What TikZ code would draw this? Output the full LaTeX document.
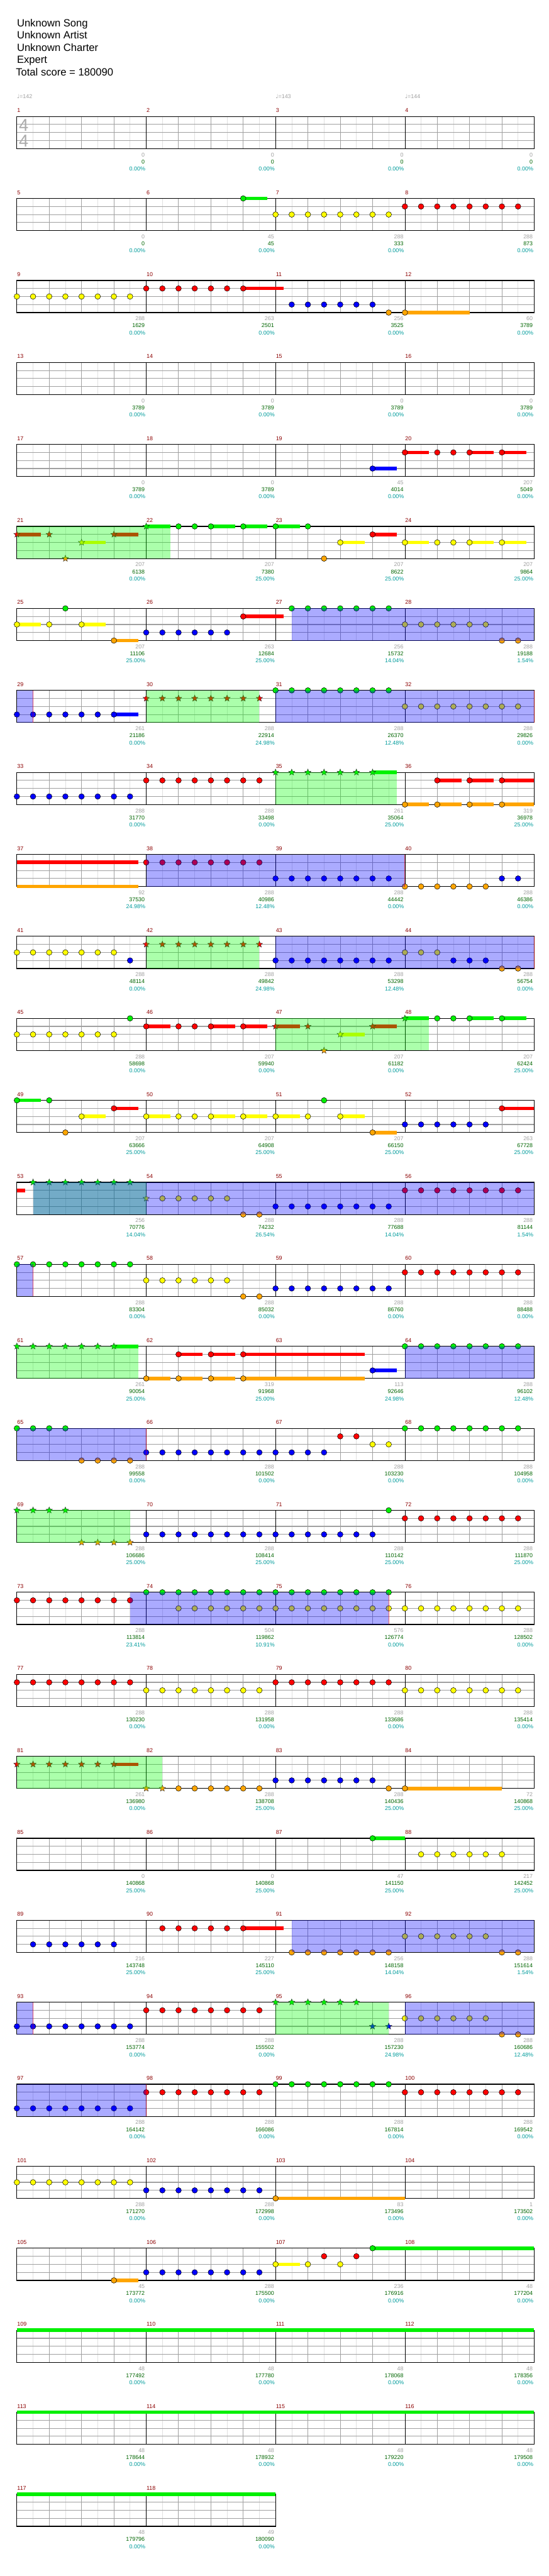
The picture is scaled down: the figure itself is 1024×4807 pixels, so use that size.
\documentclass[tikz,border=0pt]{standalone}
\usepackage{fontspec}
\setmainfont{Liberation Sans}
\newfontfamily\symfont{DejaVu Sans}
\usetikzlibrary{shapes.geometric}

\definecolor{gfret}{HTML}{00F000}
\definecolor{rfret}{HTML}{FF0000}
\definecolor{yfret}{HTML}{FFFF00}
\definecolor{bfret}{HTML}{0000FF}
\definecolor{ofret}{HTML}{FFA500}
\definecolor{gridlight}{HTML}{E0E0E0}
\definecolor{gridbeat}{HTML}{A0A0A0}
\definecolor{barred}{HTML}{8B0000}
\definecolor{cntgrey}{HTML}{A0A0A0}
\definecolor{totgreen}{HTML}{006400}
\definecolor{pctteal}{HTML}{009B9B}
\definecolor{spgreen}{HTML}{00FF00}
\definecolor{odblue}{HTML}{0000FF}

\tikzset{
  notehead/.style={draw=black, line width=0.6pt},
  spstar/.style={star, star points=5, star point ratio=2.3, minimum size=12.5pt, inner sep=0pt, draw=black!85, line width=0.5pt},
  lightline/.style={gridlight, line width=0.8pt},
  beatline/.style={gridbeat, line width=1pt},
  laneline/.style={gridbeat, line width=1.3pt},
  barline/.style={black, line width=0.7pt},
  staffframe/.style={black, line width=1.4pt},
  spfill/.style={fill=spgreen, fill opacity=0.33},
  odfill/.style={fill=odblue, fill opacity=0.33},
  odedge/.style={red, line width=0.8pt, opacity=0.55},
  titletext/.style={anchor=base west, inner sep=0pt, font=\fontsize{19.5}{22}\selectfont},
  barno/.style={text=barred, anchor=base west, inner sep=0pt, font=\fontsize{10.5}{12}\selectfont},
  cntstyle/.style={text=cntgrey, anchor=east, inner sep=0pt, font=\fontsize{10.5}{12}\selectfont},
  totstyle/.style={text=totgreen, anchor=east, inner sep=0pt, font=\fontsize{10.5}{12}\selectfont},
  pctstyle/.style={text=pctteal, anchor=east, inner sep=0pt, font=\fontsize{10.5}{12}\selectfont},
  tempo/.style={text=cntgrey, anchor=base west, inner sep=0pt, font=\fontsize{10.5}{12}\selectfont},
  timesig/.style={text=black!33, inner sep=0pt, font=\fontsize{32}{32}\selectfont}
}

\newcommand\xat[1]{31.5+30.17*(#1)}
\newcommand\setrow[1]{\def\rownum{#1}\pgfmathsetmacro\rowy{-217.3-153*(#1)}}
\newcommand\staff[1]{%
  \pgfmathtruncatemacro\lastbar{#1-1}
  \foreach \mm in {1,...,#1}{
    \foreach \ee in {1,3,5,7} \draw[lightline] ({\xat{8*(\mm-1)+\ee}},\rowy) -- ++(0,-60);
  }
  \foreach \lx in {1,2,3} \draw[laneline] ({\xat{0}},{\rowy-15*\lx}) -- ({\xat{8*#1}},{\rowy-15*\lx});
  \foreach \mm in {1,...,#1}{
    \foreach \ee in {2,4,6} \draw[beatline] ({\xat{8*(\mm-1)+\ee}},\rowy) -- ++(0,-60);
  }
  \foreach \mm in {1,...,\lastbar} \draw[barline] ({\xat{8*\mm}},\rowy) -- ++(0,-60);
  \draw[staffframe] ({\xat{0}},\rowy) rectangle ({\xat{8*#1}},{\rowy-60});
}
\newcommand\measure[5]{%
  \node[barno] (m#2) at ({\xat{8*(#1)}+0.5},{\rowy+7.5}) {#2};
  \node[cntstyle] (c#2) at ({\xat{8*(#1)+8}-2.5},{\rowy-71.4}) {#3};
  \node[totstyle] (t#2) at ({\xat{8*(#1)+8}-2.5},{\rowy-84.4}) {#4};
  \node[pctstyle] (p#2) at ({\xat{8*(#1)+8}-1.5},{\rowy-97.7}) {#5\%};
}
\newcommand\note[3]{\filldraw[notehead, fill=#3] ({\xat{#2}},{\rowy-15*(#1)}) circle (5.2pt);}
\newcommand\tail[4]{\fill[#4] ({\xat{#2}},{\rowy-15*(#1)-3.3}) rectangle ({\xat{#3}},{\rowy-15*(#1)+3.3});}
\newcommand\hold[4]{\tail{#1}{#2}{#3}{#4}\note{#1}{#2}{#4}}
\newcommand\run[4]{\foreach \nn in {#2,...,#3}{\note{#1}{\nn}{#4}}}
\newcommand\spnote[3]{\node[spstar, fill=#3] (st-\rownum-#2) at ({\xat{#2}},{\rowy-15*(#1)}) {};}
\newcommand\sphold[4]{\tail{#1}{#2}{#3}{#4}\spnote{#1}{#2}{#4}}
\newcommand\sprun[4]{\foreach \nn in {#2,...,#3}{\spnote{#1}{\nn}{#4}}}
\newcommand\spzone[2]{\fill[spfill] ({\xat{#1}},\rowy) rectangle ({\xat{#2}},{\rowy-60});}
\newcommand\odzone[2]{\fill[odfill] ({\xat{#1}},\rowy) rectangle ({\xat{#2}},{\rowy-60});}
\newcommand\odend[1]{\draw[odedge] ({\xat{#1}},\rowy) -- ++(0,-60);}

\begin{document}
\begin{tikzpicture}[x=1pt, y=1pt]
   \useasboundingbox (0,0) rectangle (1024,-4807);

   %header
   \node[titletext] (song) at (31.5,-49.3) {Unknown Song};
   \node[titletext] (artist) at (31.5,-72.3) {Unknown Artist};
   \node[titletext] (charter) at (31.5,-95.3) {Unknown Charter};
   \node[titletext] (level) at (31.5,-118.3) {Expert};
   \node[titletext] (score) at (29.5,-141.7) {Total score = 180090};

   %row 1
   \setrow{0} \staff{4}
   \node[timesig] (ts1) at (44.3,-233.3) {4};
   \node[timesig] (ts2) at (44.3,-262.5) {4};
   \node[tempo] (bpm1) at ({\xat{0}},-184) {{\symfont ♩}=142};
   \node[tempo] (bpm2) at ({\xat{16}},-184) {{\symfont ♩}=143};
   \node[tempo] (bpm3) at ({\xat{24}},-184) {{\symfont ♩}=144};
   \measure{0}{1}{0}{0}{0.00} \measure{1}{2}{0}{0}{0.00}
   \measure{2}{3}{0}{0}{0.00} \measure{3}{4}{0}{0}{0.00}

   %row 2
   \setrow{1} \staff{4}
   \hold{0}{14}{15.5}{gfret}
   \run{2}{16}{23}{yfret} \run{1}{24}{31}{rfret}
   \measure{0}{5}{0}{0}{0.00} \measure{1}{6}{45}{45}{0.00}
   \measure{2}{7}{288}{333}{0.00} \measure{3}{8}{288}{873}{0.00}

   %row 3
   \setrow{2} \staff{4}
   \run{2}{0}{7}{yfret} \run{1}{8}{13}{rfret} \hold{1}{14}{16.5}{rfret}
   \run{3}{17}{22}{bfret} \note{4}{23}{ofret} \hold{4}{24}{28}{ofret}
   \measure{0}{9}{288}{1629}{0.00} \measure{1}{10}{263}{2501}{0.00}
   \measure{2}{11}{256}{3525}{0.00} \measure{3}{12}{60}{3789}{0.00}

   %row 4
   \setrow{3} \staff{4}
   \measure{0}{13}{0}{3789}{0.00} \measure{1}{14}{0}{3789}{0.00}
   \measure{2}{15}{0}{3789}{0.00} \measure{3}{16}{0}{3789}{0.00}

   %row 5
   \setrow{4} \staff{4}
   \hold{3}{22}{23.5}{bfret}
   \hold{1}{24}{25.5}{rfret} \note{1}{26}{rfret} \note{1}{27}{rfret}
   \hold{1}{28}{29.5}{rfret} \hold{1}{30}{31.5}{rfret}
   \measure{0}{17}{0}{3789}{0.00} \measure{1}{18}{0}{3789}{0.00}
   \measure{2}{19}{45}{4014}{0.00} \measure{3}{20}{207}{5049}{0.00}

   %row 6
   \setrow{5} \staff{4}
   \sphold{1}{0}{1.5}{rfret} \spnote{1}{2}{rfret} \spnote{4}{3}{ofret}
   \sphold{2}{4}{5.5}{yfret} \sphold{1}{6}{7.5}{rfret} \sphold{0}{8}{9.5}{gfret}
   \note{0}{10}{gfret} \note{0}{11}{gfret} \hold{0}{12}{13.5}{gfret}
   \hold{0}{14}{15.5}{gfret} \hold{0}{16}{17.5}{gfret} \note{0}{18}{gfret}
   \note{4}{19}{ofret} \hold{2}{20}{21.5}{yfret} \hold{1}{22}{23.5}{rfret}
   \hold{2}{24}{25.5}{yfret} \note{2}{26}{yfret} \note{2}{27}{yfret}
   \hold{2}{28}{29.5}{yfret} \hold{2}{30}{31.5}{yfret}
   \spzone{0}{9.5}
   \measure{0}{21}{207}{6138}{0.00} \measure{1}{22}{207}{7380}{25.00}
   \measure{2}{23}{207}{8622}{25.00} \measure{3}{24}{207}{9864}{25.00}

   %row 7
   \setrow{6} \staff{4}
   \hold{2}{0}{1.5}{yfret} \note{2}{2}{yfret} \note{0}{3}{gfret}
   \hold{2}{4}{5.5}{yfret} \hold{4}{6}{7.5}{ofret}
   \run{3}{8}{13}{bfret} \hold{1}{14}{16.5}{rfret}
   \run{0}{17}{23}{gfret} \run{2}{24}{29}{yfret} \run{4}{30}{31}{ofret}
   \odzone{17}{32}
   \measure{0}{25}{207}{11106}{25.00} \measure{1}{26}{263}{12684}{25.00}
   \measure{2}{27}{256}{15732}{14.04} \measure{3}{28}{288}{19188}{1.54}

   %row 8
   \setrow{7} \staff{4}
   \run{3}{0}{5}{bfret} \hold{3}{6}{7.5}{bfret}
   \sprun{1}{8}{15}{rfret}
   \run{0}{16}{23}{gfret} \run{2}{24}{31}{yfret}
   \odzone{0}{1} \odend{1} \spzone{8}{15} \odzone{16}{32} \odend{32}
   \measure{0}{29}{261}{21186}{0.00} \measure{1}{30}{288}{22914}{24.98}
   \measure{2}{31}{288}{26370}{12.48} \measure{3}{32}{288}{29826}{0.00}

   %row 9
   \setrow{8} \staff{4}
   \run{3}{0}{7}{bfret} \run{1}{8}{15}{rfret}
   \sprun{0}{16}{21}{gfret} \sphold{0}{22}{23.5}{gfret}
   \hold{4}{24}{25.5}{ofret}
   \hold{1}{26}{27.5}{rfret} \hold{4}{26}{27.5}{ofret}
   \hold{1}{28}{29.5}{rfret} \hold{4}{28}{29.5}{ofret}
   \hold{1}{30}{32}{rfret} \hold{4}{30}{32}{ofret}
   \spzone{16}{23.5}
   \measure{0}{33}{288}{31770}{0.00} \measure{1}{34}{288}{33498}{0.00}
   \measure{2}{35}{261}{35064}{25.00} \measure{3}{36}{319}{36978}{25.00}

   %row 10
   \setrow{9} \staff{4}
   \tail{1}{0}{7.5}{rfret} \tail{4}{0}{7.5}{ofret}
   \run{1}{8}{15}{rfret} \run{3}{16}{23}{bfret}
   \run{4}{24}{29}{ofret} \run{3}{30}{31}{bfret}
   \odzone{8}{24} \odend{24}
   \measure{0}{37}{92}{37530}{24.98} \measure{1}{38}{288}{40986}{12.48}
   \measure{2}{39}{288}{44442}{0.00} \measure{3}{40}{288}{46386}{0.00}

   %row 11
   \setrow{10} \staff{4}
   \run{2}{0}{6}{yfret} \note{3}{7}{bfret} \sprun{1}{8}{15}{rfret}
   \run{3}{16}{23}{bfret} \run{2}{24}{26}{yfret} \run{3}{27}{29}{bfret}
   \run{4}{30}{31}{ofret}
   \spzone{8}{15} \odzone{16}{32} \odend{32}
   \measure{0}{41}{288}{48114}{0.00} \measure{1}{42}{288}{49842}{24.98}
   \measure{2}{43}{288}{53298}{12.48} \measure{3}{44}{288}{56754}{0.00}

   %row 12
   \setrow{11} \staff{4}
   \run{2}{0}{6}{yfret} \note{0}{7}{gfret}
   \hold{1}{8}{9.5}{rfret} \note{1}{10}{rfret} \note{1}{11}{rfret}
   \hold{1}{12}{13.5}{rfret} \hold{1}{14}{15.5}{rfret}
   \sphold{1}{16}{17.5}{rfret} \spnote{1}{18}{rfret} \spnote{4}{19}{ofret}
   \sphold{2}{20}{21.5}{yfret} \sphold{1}{22}{23.5}{rfret} \sphold{0}{24}{25.5}{gfret}
   \note{0}{26}{gfret} \note{0}{27}{gfret} \hold{0}{28}{29.5}{gfret} \hold{0}{30}{31.5}{gfret}
   \spzone{16}{25.5}
   \measure{0}{45}{288}{58698}{0.00} \measure{1}{46}{207}{59940}{0.00}
   \measure{2}{47}{207}{61182}{0.00} \measure{3}{48}{207}{62424}{25.00}

   %row 13
   \setrow{12} \staff{4}
   \hold{0}{0}{1.5}{gfret} \note{0}{2}{gfret} \note{4}{3}{ofret}
   \hold{2}{4}{5.5}{yfret} \hold{1}{6}{7.5}{rfret}
   \hold{2}{8}{9.5}{yfret} \note{2}{10}{yfret} \note{2}{11}{yfret}
   \hold{2}{12}{13.5}{yfret} \hold{2}{14}{15.5}{yfret} \hold{2}{16}{17.5}{yfret}
   \note{2}{18}{yfret} \note{0}{19}{gfret} \hold{2}{20}{21.5}{yfret}
   \hold{4}{22}{23.5}{ofret} \run{3}{24}{29}{bfret} \hold{1}{30}{32}{rfret}
   \measure{0}{49}{207}{63666}{25.00} \measure{1}{50}{207}{64908}{25.00}
   \measure{2}{51}{207}{66150}{25.00} \measure{3}{52}{263}{67728}{25.00}

   %row 14
   \setrow{13} \staff{4}
   \tail{1}{0}{0.5}{rfret}
   \sprun{0}{1}{7}{gfret} \spnote{2}{8}{yfret} \run{2}{9}{13}{yfret}
   \run{4}{14}{15}{ofret} \run{3}{16}{23}{bfret} \run{1}{24}{31}{rfret}
   \spzone{1}{8} \odzone{1}{32}
   \measure{0}{53}{256}{70776}{14.04} \measure{1}{54}{288}{74232}{26.54}
   \measure{2}{55}{288}{77688}{14.04} \measure{3}{56}{288}{81144}{1.54}

   %row 15
   \setrow{14} \staff{4}
   \run{0}{0}{7}{gfret} \run{2}{8}{13}{yfret} \run{4}{14}{15}{ofret}
   \run{3}{16}{23}{bfret} \run{1}{24}{31}{rfret}
   \odzone{0}{1} \odend{1}
   \measure{0}{57}{288}{83304}{0.00} \measure{1}{58}{288}{85032}{0.00}
   \measure{2}{59}{288}{86760}{0.00} \measure{3}{60}{288}{88488}{0.00}

   %row 16
   \setrow{15} \staff{4}
   \sprun{0}{0}{5}{gfret} \sphold{0}{6}{7.5}{gfret}
   \hold{4}{8}{9.5}{ofret}
   \hold{1}{10}{11.5}{rfret} \hold{4}{10}{11.5}{ofret}
   \hold{1}{12}{13.5}{rfret} \hold{4}{12}{13.5}{ofret}
   \hold{1}{14}{21.5}{rfret} \hold{4}{14}{21.5}{ofret}
   \hold{3}{22}{23.5}{bfret} \run{0}{24}{31}{gfret}
   \spzone{0}{7.5} \odzone{24}{32}
   \measure{0}{61}{261}{90054}{25.00} \measure{1}{62}{319}{91968}{25.00}
   \measure{2}{63}{113}{92646}{24.98} \measure{3}{64}{288}{96102}{12.48}

   %row 17
   \setrow{16} \staff{4}
   \run{0}{0}{3}{gfret} \run{4}{4}{7}{ofret} \run{3}{8}{19}{bfret}
   \run{1}{20}{21}{rfret} \run{2}{22}{23}{yfret} \run{0}{24}{31}{gfret}
   \odzone{0}{8} \odend{8}
   \measure{0}{65}{288}{99558}{0.00} \measure{1}{66}{288}{101502}{0.00}
   \measure{2}{67}{288}{103230}{0.00} \measure{3}{68}{288}{104958}{0.00}

   %row 18
   \setrow{17} \staff{4}
   \sprun{0}{0}{3}{gfret} \sprun{4}{4}{7}{ofret} \run{3}{8}{22}{bfret}
   \note{0}{23}{gfret} \run{1}{24}{31}{rfret}
   \spzone{0}{7}
   \measure{0}{69}{288}{106686}{25.00} \measure{1}{70}{288}{108414}{25.00}
   \measure{2}{71}{288}{110142}{25.00} \measure{3}{72}{288}{111870}{25.00}

   %row 19
   \setrow{18} \staff{4}
   \run{1}{0}{7}{rfret} \run{0}{8}{23}{gfret} \run{2}{10}{31}{yfret}
   \odzone{7}{23} \odend{23}
   \measure{0}{73}{288}{113814}{23.41} \measure{1}{74}{504}{119862}{10.91}
   \measure{2}{75}{576}{126774}{0.00} \measure{3}{76}{288}{128502}{0.00}

   %row 20
   \setrow{19} \staff{4}
   \run{1}{0}{7}{rfret} \run{2}{8}{15}{yfret} \run{1}{16}{23}{rfret} \run{2}{24}{31}{yfret}
   \measure{0}{77}{288}{130230}{0.00} \measure{1}{78}{288}{131958}{0.00}
   \measure{2}{79}{288}{133686}{0.00} \measure{3}{80}{288}{135414}{0.00}

   %row 21
   \setrow{20} \staff{4}
   \sprun{1}{0}{5}{rfret} \sphold{1}{6}{7.5}{rfret} \sprun{4}{8}{9}{ofret}
   \run{4}{10}{15}{ofret} \run{3}{16}{22}{bfret} \note{4}{23}{ofret}
   \hold{4}{24}{30}{ofret}
   \spzone{0}{9}
   \measure{0}{81}{261}{136980}{0.00} \measure{1}{82}{288}{138708}{25.00}
   \measure{2}{83}{288}{140436}{25.00} \measure{3}{84}{72}{140868}{25.00}

   %row 22
   \setrow{21} \staff{4}
   \hold{0}{22}{24}{gfret} \run{2}{25}{30}{yfret}
   \measure{0}{85}{0}{140868}{25.00} \measure{1}{86}{0}{140868}{25.00}
   \measure{2}{87}{47}{141150}{25.00} \measure{3}{88}{217}{142452}{25.00}

   %row 23
   \setrow{22} \staff{4}
   \run{3}{1}{6}{bfret} \run{1}{9}{13}{rfret} \hold{1}{14}{16.5}{rfret}
   \run{4}{17}{23}{ofret} \run{2}{24}{29}{yfret} \run{4}{30}{31}{ofret}
   \odzone{17}{32}
   \measure{0}{89}{216}{143748}{25.00} \measure{1}{90}{227}{145110}{25.00}
   \measure{2}{91}{256}{148158}{14.04} \measure{3}{92}{288}{151614}{1.54}

   %row 24
   \setrow{23} \staff{4}
   \run{3}{0}{7}{bfret} \run{1}{8}{15}{rfret} \sprun{0}{16}{21}{gfret}
   \sprun{3}{22}{23}{bfret} \run{2}{24}{29}{yfret} \run{4}{30}{31}{ofret}
   \odzone{0}{1} \odend{1} \spzone{16}{23} \odzone{24}{32}
   \measure{0}{93}{288}{153774}{0.00} \measure{1}{94}{288}{155502}{0.00}
   \measure{2}{95}{288}{157230}{24.98} \measure{3}{96}{288}{160686}{12.48}

   %row 25
   \setrow{24} \staff{4}
   \run{3}{0}{7}{bfret} \run{1}{8}{15}{rfret} \run{0}{16}{23}{gfret} \run{1}{24}{31}{rfret}
   \odzone{0}{8} \odend{8}
   \measure{0}{97}{288}{164142}{0.00} \measure{1}{98}{288}{166086}{0.00}
   \measure{2}{99}{288}{167814}{0.00} \measure{3}{100}{288}{169542}{0.00}

   %row 26
   \setrow{25} \staff{4}
   \run{2}{0}{7}{yfret} \run{3}{8}{15}{bfret} \hold{4}{16}{24}{ofret}
   \measure{0}{101}{288}{171270}{0.00} \measure{1}{102}{288}{172998}{0.00}
   \measure{2}{103}{83}{173496}{0.00} \measure{3}{104}{1}{173502}{0.00}

   %row 27
   \setrow{26} \staff{4}
   \hold{4}{6}{7.5}{ofret} \run{3}{8}{15}{bfret}
   \hold{2}{16}{17.5}{yfret} \note{2}{18}{yfret} \note{1}{19}{rfret}
   \note{2}{20}{yfret} \note{1}{21}{rfret} \hold{0}{22}{32}{gfret}
   \measure{0}{105}{45}{173772}{0.00} \measure{1}{106}{288}{175500}{0.00}
   \measure{2}{107}{236}{176916}{0.00} \measure{3}{108}{48}{177204}{0.00}

   %row 28
   \setrow{27} \staff{4}
   \tail{0}{0}{32}{gfret}
   \measure{0}{109}{48}{177492}{0.00} \measure{1}{110}{48}{177780}{0.00}
   \measure{2}{111}{48}{178068}{0.00} \measure{3}{112}{48}{178356}{0.00}

   %row 29
   \setrow{28} \staff{4}
   \tail{0}{0}{32}{gfret}
   \measure{0}{113}{48}{178644}{0.00} \measure{1}{114}{48}{178932}{0.00}
   \measure{2}{115}{48}{179220}{0.00} \measure{3}{116}{48}{179508}{0.00}

   %row 30
   \setrow{29} \staff{2}
   \tail{0}{0}{16}{gfret}
   \measure{0}{117}{48}{179796}{0.00} \measure{1}{118}{49}{180090}{0.00}

\end{tikzpicture}
\end{document}
